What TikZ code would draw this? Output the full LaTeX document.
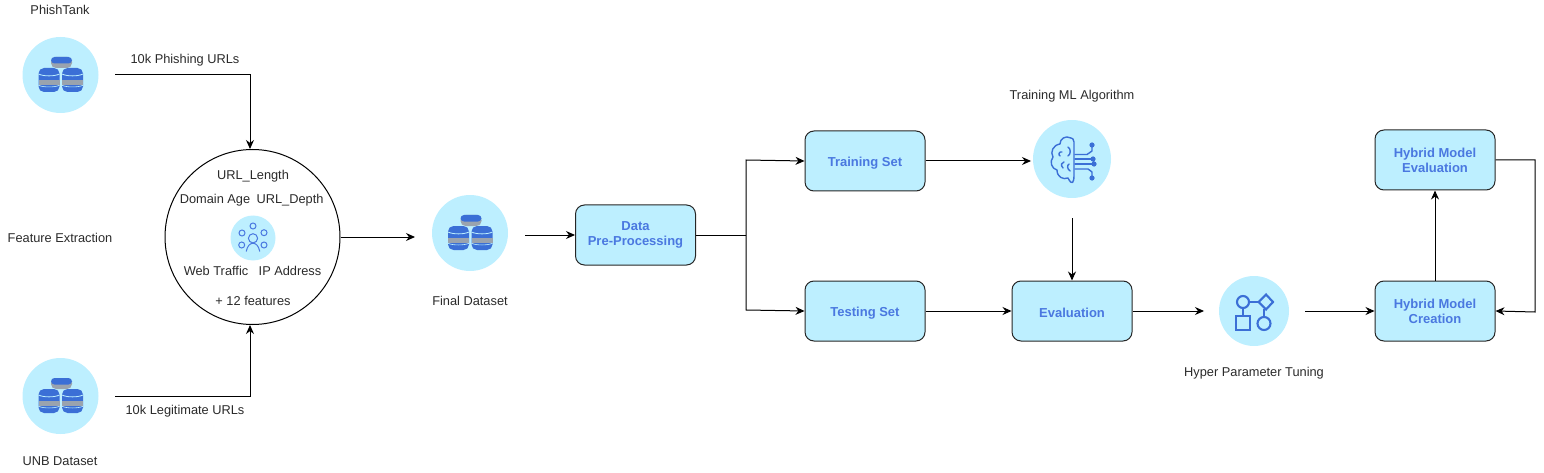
\documentclass[tikz,border=0pt]{standalone}
\usepackage{fontspec}
\setmainfont{Liberation Sans}
\usetikzlibrary{arrows.meta}
\definecolor{lightb}{HTML}{BDEFFF}
\definecolor{textb}{HTML}{4A78E0}
\definecolor{iconb}{HTML}{3B6FD6}
\definecolor{icong}{HTML}{9AA3AE}
\definecolor{labelg}{HTML}{2A2A2A}
% x centre, y top, half width
\newcommand{\cylfull}[3]{%
  \fill[iconb,rounded corners=5.5pt] (#1-#3,#2) rectangle (#1+#3,#2+24);
  \fill[icong] (#1-#3,#2+12) rectangle (#1+#3,#2+17);
  \draw[lightb,line width=0.8pt] (#1-#3,#2+6) .. controls (#1-#3+5,#2+8.5) and (#1+#3-5,#2+8.5) .. (#1+#3,#2+6);
  \draw[lightb,line width=0.6pt] (#1-#3,#2+17.3) .. controls (#1-#3+5,#2+19.5) and (#1+#3-5,#2+19.5) .. (#1+#3,#2+17.3);
}
\newcommand{\dbicon}[2]{%
  \begin{scope}[shift={(#1,#2)}]
    \fill[icong,rounded corners=5pt] (-9.5,-18) rectangle (11.5,-7);
    \fill[iconb,rounded corners=3.5pt] (-9.5,-18) rectangle (11.5,-11.5);
    \cylfull{-11.5}{-7}{10.5}
    \cylfull{12}{-7}{10.5}
  \end{scope}}
\tikzset{
  iconball/.style={circle,fill=lightb,draw=none,minimum size=#1,inner sep=0pt},
  stepbox/.style={draw=black!85,line width=1pt,rounded corners=9pt,fill=lightb,minimum width=120pt,minimum height=60pt,align=center,text=textb,font=\bfseries\fontsize{13}{15}\selectfont,inner sep=0pt,execute at begin node=\rule{0pt}{13pt}},
  lbl/.style={font=\fontsize{12.8}{14}\selectfont,text=labelg,inner sep=0pt},
  conn/.style={draw=black,line width=1pt,-{Stealth[length=9pt,width=8pt]}},
  plainconn/.style={draw=black,line width=1pt},
  iconline/.style={draw=iconb,line width=1.4pt,line cap=round,line join=round},
  pepline/.style={draw=textb,line width=1pt},
  hypline/.style={draw=iconb,line width=2.1pt}
}
\begin{document}
\begin{tikzpicture}[x=1pt,y=-1pt]
\useasboundingbox (0,0) rectangle (1544,473);
% icon nodes
\node[iconball=76pt] (phish) at (60.5,75) {};
\node[iconball=76pt] (unb) at (60.5,396) {};
\node[iconball=76pt] (final) at (470,233) {};
\node[iconball=78pt] (brain) at (1072,159) {};
\node[iconball=70pt] (hyper) at (1254,311) {};
\node[draw=black,line width=1pt,circle,minimum size=175pt,inner sep=0pt] (feat) at (252.5,237) {};
\node[iconball=45pt] (people) at (253,238) {};
\dbicon{60.5}{75}
\dbicon{60.5}{396}
\dbicon{470}{233}
% boxes
\node[stepbox] (prep) at (635.5,235) {Data\\Pre-Processing};
\node[stepbox] (train) at (865,161) {Training Set};
\node[stepbox] (test) at (865,311) {Testing Set};
\node[stepbox] (eval) at (1072,311) {Evaluation};
\node[stepbox] (create) at (1435,311) {Hybrid Model\\Creation};
\node[stepbox] (hyeval) at (1435,160) {Hybrid Model\\Evaluation};
% labels
\node[lbl] (l1) at (60,10) {PhishTank};
\node[lbl] (l2) at (185,60) {10k Phishing URLs};
\node[lbl] (l3) at (60,238) {Feature Extraction};
\node[lbl] (l4) at (185,411.5) {10k Legitimate URLs};
\node[lbl] (l5) at (60,461) {UNB Dataset};
\node[lbl] (l6) at (470,300.5) {Final Dataset};
\node[lbl] (l7) at (1072,96.5) {Training ML Algorithm};
\node[lbl] (l8) at (1254,373) {Hyper Parameter Tuning};
\node[lbl] (f1) at (253,176.5) {URL\_Length};
\node[lbl] (f2) at (215,200.5) {Domain Age};
\node[lbl] (f3) at (290,200.5) {URL\_Depth};
\node[lbl] (f4) at (216,270.5) {Web Traffic};
\node[lbl] (f5) at (290,270.5) {IP Address};
\node[lbl] (f6) at (253,300.5) {+ 12 features};
% people icon
\begin{scope}[shift={(253,238)}]
  \draw[pepline] (0,0.3) circle (4.6);
  \draw[pepline] (0,-12) circle (3);
  \draw[pepline] (-11,-5) circle (3);
  \draw[pepline] (11,-5.3) circle (3);
  \draw[pepline] (-11.3,7) circle (3);
  \draw[pepline] (11,7) circle (3);
  \draw[pepline] (-6.8,13.5) .. controls (-5.5,7.5) and (-3,5.5) .. (0,5.2) .. controls (3,5.5) and (5.5,7.5) .. (6.8,13.5);
\end{scope}
% brain icon
\begin{scope}[shift={(1072,159)}]
  \draw[iconline] (-1,-21) .. controls (-7,-24) and (-12,-20) .. (-12,-15) .. controls (-19,-14) and (-22,-7) .. (-19,-2) .. controls (-23,3) and (-20,10) .. (-15,11) .. controls (-15,18) and (-9,21) .. (-4,19) .. controls (0,27) and (2,24) .. (2,16) -- (2,-17) .. controls (2,-20) and (0,-21) .. (-1,-21);
  \draw[iconline] (-10,-7) .. controls (-13,-8) and (-14,-4) .. (-12,-3);
  \draw[iconline] (-4,-12) .. controls (-1,-10) and (-1,-5) .. (-4,-3);
  \draw[iconline] (-9,9) .. controls (-12,6) and (-10,3) .. (-8,3);
  \draw[iconline] (-2,12) .. controls (-5,10) and (-5,6) .. (-3,5);
  \draw[iconline] (3,-4.5) -- (15,-4.5) -- (20,-8) -- (20,-14);
  \draw[iconline] (3,0) -- (21,0);
  \draw[iconline] (3,5) -- (22,5);
  \draw[iconline] (3,10) -- (16,10) -- (20,13) -- (20,19);
  \fill[iconb] (20,-14) circle (2.6) (21,0) circle (2.6) (22,5) circle (2.6) (20,19) circle (2.6);
\end{scope}
% hyper icon
\begin{scope}[shift={(1254,311)}]
  \draw[hypline] (-11,-9) circle (6);
  \draw[hypline] (-5,-9) -- (4,-9);
  \draw[hypline] (-11,-3) -- (-11,5);
  \draw[hypline] (4.5,-9) -- (12,-16.5) -- (19,-9) -- (12,-1.5) -- cycle;
  \draw[hypline] (10,-2) -- (10,6);
  \draw[hypline] (-18,5) rectangle (-4,19);
  \draw[hypline] (10,12.5) circle (6.5);
\end{scope}
% free ends
\coordinate (a1) at (115,75);
\coordinate (a1b) at (250,75);
\coordinate (a2) at (115,396);
\coordinate (a2b) at (250,396);
\coordinate (a3) at (415,237);
\coordinate (a4) at (525,235);
\coordinate (j) at (746,235);
\coordinate (a5) at (1031,161);
\coordinate (a6) at (1072,218);
\coordinate (a7) at (1204,311);
\coordinate (a8) at (1305,311);
\coordinate (r1) at (1535,160);
\coordinate (r2) at (1535,312);
% connectors
\draw[conn] (a1) -- (a1b) -- (feat.north -| a1b);
\draw[conn] (a2) -- (a2b) -- (feat.south -| a2b);
\draw[conn] (feat.east) -- (a3);
\draw[conn] (a4) -- (prep.west);
\draw[plainconn] (prep.east) -- (j);
\draw[conn] (j) -- (746,160) -- (train.west);
\draw[conn] (j) -- (746,310) -- (test.west);
\draw[conn] (train.east) -- (a5);
\draw[conn] (a6) -- (eval.north);
\draw[conn] (test.east) -- (eval.west);
\draw[conn] (eval.east) -- (a7);
\draw[conn] (a8) -- (create.west);
\draw[conn] (create.north) -- (hyeval.south);
\draw[conn] (hyeval.east) -- (r1) -- (r2) -- (create.east);
\end{tikzpicture}
\end{document}
